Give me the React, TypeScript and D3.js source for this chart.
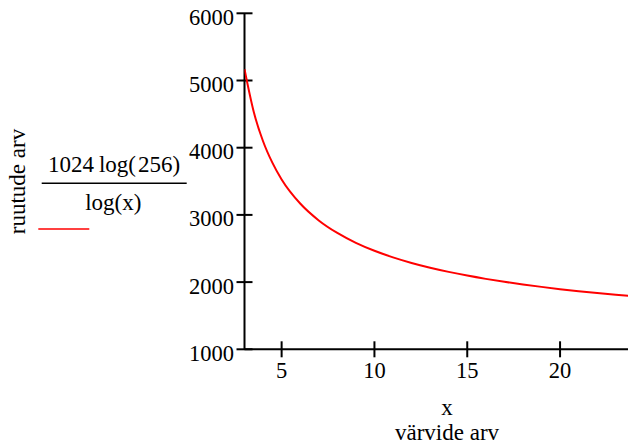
import React from 'react';
import * as d3 from 'd3';

// values (x = colours, y = cells)
const xValues = [3, 3.5, 4, 4.5, 5, 6, 7, 8, 9, 10, 11, 12, 13, 14, 15, 16, 17, 18, 19, 20, 21, 22, 23, 24];
const yValues = [5169, 4532, 4096, 3777, 3527, 3169, 2918, 2731, 2584, 2466, 2368, 2285, 2214, 2152, 2097, 2048, 2004, 1965, 1929, 1895, 1865, 1837, 1811, 1787];
const xTicks = [5, 10, 15, 20];
const yTicks = [1000, 2000, 3000, 4000, 5000, 6000];

const width = 628;
const height = 448;
const font = "'Liberation Serif', 'DejaVu Serif', serif";

const App = () => {
  const x = d3.scaleLinear().domain([3, 23.66]).range([244.5, 628]);
  const y = d3.scaleLinear().domain([1000, 6000]).range([349.3, 13.3]);

  const points = xValues.map((v, i) => [v, yValues[i]] as [number, number]);
  const line = d3.line<[number, number]>()
    .x(d => x(d[0]))
    .y(d => y(d[1]))
    .curve(d3.curveMonotoneX);

  const [x0, x1] = x.range();
  const [yBottom, yTop] = y.range();

  return (
    <svg width={width} height={height}
      style={{ position: 'absolute', left: 0, top: 0, fontFamily: font }}>
      <defs>
        <clipPath id='plot'>
          <rect x={x0} y={0} width={x1 - x0} height={yBottom} />
        </clipPath>
      </defs>

      {/* axes */}
      <g stroke='black' strokeWidth={2}>
        <line x1={x0} x2={x1} y1={yBottom} y2={yBottom} />
        <line x1={x0} x2={x0} y1={yBottom} y2={yTop} />
        {xTicks.map(t => (
          <line key={t} x1={x(t)} x2={x(t)} y1={yBottom - 8} y2={yBottom + 8} />
        ))}
        {yTicks.map(t => (
          <line key={t} x1={x0 - 8} x2={x0 + 8} y1={y(t)} y2={y(t)} />
        ))}
      </g>
      <g fontSize={22.5} fill='black' style={{ fontFamily: font }}>
        {xTicks.map(t => (
          <text key={t} x={x(t)} y={yBottom + 29} textAnchor='middle'>{t}</text>
        ))}
        {yTicks.map(t => (
          <text key={t} x={x0 - 10.5} y={y(t) + 11.5} textAnchor='end'>{t}</text>
        ))}
      </g>

      <path d={line(points) ?? ''} fill='none' stroke='#ff0000' strokeWidth={2}
        clipPath='url(#plot)' />

      {/* axis titles */}
      <g fontSize={23} fill='black' textAnchor='middle' style={{ fontFamily: font }}>
        <text x={447} y={415}>x</text>
        <text x={447} y={440}>värvide arv</text>
        <text transform='translate(25,181.5) rotate(-90)'>ruutude arv</text>
      </g>

      {/* legend: trace expression */}
      <g fontSize={23} fill='black' style={{ fontFamily: font }}>
        <text x={114} y={171.5} textAnchor='middle'>
          <tspan>1024</tspan>
          <tspan dx={5}>log(</tspan>
          <tspan dx={2}>256)</tspan>
        </text>
        <line x1={41.7} x2={186.7} y1={183.3} y2={183.3} stroke='black' strokeWidth={1.5} />
        <text x={113.3} y={210} textAnchor='middle'>log(x)</text>
        <line x1={38.3} x2={89.3} y1={229} y2={229} stroke='#ff0000' strokeWidth={1.5} />
      </g>
    </svg>
  );
};

export default App;
